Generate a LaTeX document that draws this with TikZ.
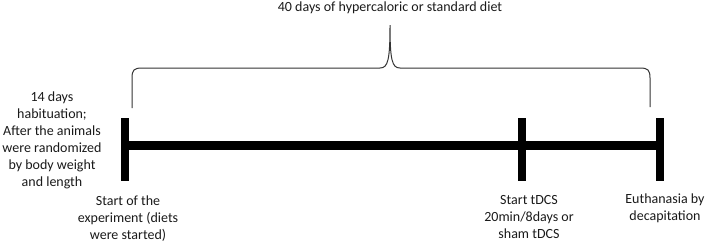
\documentclass[tikz,border=0pt]{standalone}
\usepackage{fontspec}
\setmainfont{Carlito}
\usetikzlibrary{positioning, calc}
\definecolor{myInk}{HTML}{1A1A1A}
\definecolor{myBrace}{HTML}{333333}

\begin{document}
\begin{tikzpicture}[
  x=1bp, y=-1bp,
  lbl/.style={font=\fontsize{14bp}{17bp}\selectfont, text=myInk, align=center, inner sep=0pt},
  tick/.style={line width=8bp, black},
  bar/.style={line width=9bp, black},
  brace/.style={line width=1bp, myBrace}
]
\useasboundingbox (0,0) rectangle (710,246);
% points on the time line
\coordinate (start) at (125,145);
\coordinate (tdcs)  at (522,145);
\coordinate (euth)  at (660,145);
\draw[bar] (start) -- (euth);
\foreach \p in {start, tdcs, euth}
  \draw[tick] ($(\p)+(0,-27)$) -- ($(\p)+(0,36)$);
% brace over the diet period
\coordinate (braceL)   at (132,108);
\coordinate (braceTip) at (390,25);
\coordinate (braceR)   at (650,107);
\draw[brace] (braceL) -- (132,78) .. controls (132,70) and (134,68) .. (142,68)
  -- (380,68) .. controls (388,68) and (390,60) .. (braceTip)
  .. controls (390,60) and (392,68) .. (400,68)
  -- (640,68) .. controls (648,68) and (650,70) .. (650,78) -- (braceR);
\node[lbl] (diet) at (390,8) {40 days of hypercaloric or standard diet};
% labels
\node[lbl] (habit) at (52,140.5) {14 days\\habituation;\\After the animals\\were randomized\\by body weight\\and length};
\node[lbl] (startLbl) at (128,218.5) {Start of the\\experiment (diets\\were started)};
\node[lbl] (tdcsLbl)  at (529,217) {Start tDCS\\20min/8days or\\sham tDCS};
\node[lbl] (euthLbl)  at (665,208.5) {Euthanasia by\\decapitation};
\end{tikzpicture}
\end{document}
